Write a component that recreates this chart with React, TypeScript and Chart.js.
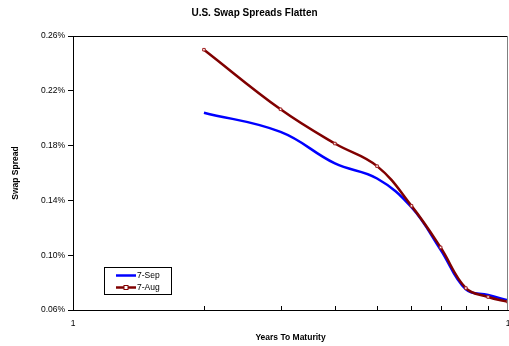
import React, { useEffect, useRef } from 'react';
import { Chart, registerables } from 'chart.js';

Chart.register(...registerables);

const FONT = "'Liberation Sans', Arial, Helvetica, sans-serif";

const chartTitle = 'U.S. Swap Spreads Flatten';
const xAxisTitle = 'Years To Maturity';
const yAxisTitle = 'Swap Spread';

const maturities = [2, 3, 4, 5, 6, 7, 8, 9, 10];
const sep7 = [0.204, 0.19, 0.167, 0.156, 0.135, 0.104, 0.075, 0.071, 0.067];
const aug7 = [0.25, 0.2065, 0.1815, 0.165, 0.136, 0.1057, 0.076, 0.0695, 0.066];
const seriesLabels = ['7-Sep', '7-Aug'];

const yTickValues = [0.06, 0.1, 0.14, 0.18, 0.22, 0.26];
const xTickValues = [1, 2, 3, 4, 5, 6, 7, 8, 9, 10];
const xTickLabels = ['1', '', '', '', '', '', '', '', '', '1'];

const framePlugin = {
  id: 'frame',
  afterDraw(chart: any) {
    const { ctx, chartArea } = chart;
    ctx.save();
    ctx.strokeStyle = '#000';
    ctx.lineWidth = 1;
    ctx.beginPath();
    ctx.moveTo(Math.round(chartArea.left) + 0.5, Math.round(chartArea.top) + 0.5);
    ctx.lineTo(Math.round(chartArea.right) - 0.5, Math.round(chartArea.top) + 0.5);
    ctx.stroke();
    ctx.strokeStyle = '#808080';
    ctx.beginPath();
    ctx.moveTo(Math.round(chartArea.right) - 0.5, Math.round(chartArea.top));
    ctx.lineTo(Math.round(chartArea.right) - 0.5, Math.round(chartArea.bottom));
    ctx.stroke();
    // inside minor ticks on x axis
    const xs = chart.scales.x;
    ctx.strokeStyle = '#000';
    xs.ticks.forEach((t: any, i: number) => {
      if (i === 0 || i === xs.ticks.length - 1) return;
      const px = Math.round(xs.getPixelForValue(t.value)) + 0.5;
      ctx.beginPath();
      ctx.moveTo(px, chartArea.bottom);
      ctx.lineTo(px, chartArea.bottom - 4);
      ctx.stroke();
    });
    ctx.restore();
  },
};

const legendPlugin = {
  id: 'boxLegend',
  afterDatasetsDraw(chart: any) {
    const { ctx, chartArea } = chart;
    const x = Math.round(chartArea.left + 31);
    const y = Math.round(chartArea.bottom - 43);
    const w = 67;
    const h = 27;
    ctx.save();
    ctx.fillStyle = '#fff';
    ctx.fillRect(x, y, w, h);
    ctx.strokeStyle = '#000';
    ctx.lineWidth = 1;
    ctx.strokeRect(x + 0.5, y + 0.5, w, h);
    const ds = chart.data.datasets;
    ds.forEach((d: any, i: number) => {
      const ly = y + 8.5 + i * 12;
      ctx.strokeStyle = d.borderColor;
      ctx.lineWidth = 2.5;
      ctx.beginPath();
      ctx.moveTo(x + 12, ly);
      ctx.lineTo(x + 32, ly);
      ctx.stroke();
      if (d.pointRadius > 0) {
        ctx.lineWidth = 1;
        ctx.fillStyle = '#fff';
        ctx.fillRect(x + 20, ly - 2, 4, 4);
        ctx.strokeRect(x + 20, ly - 2, 4, 4);
      }
      ctx.fillStyle = '#000';
      ctx.font = `8.5px ${FONT}`;
      ctx.textBaseline = 'middle';
      ctx.textAlign = 'left';
      ctx.fillText(d.label, x + 33, ly);
    });
    ctx.restore();
  },
};

export default function App() {
  const ref = useRef<HTMLCanvasElement | null>(null);

  useEffect(() => {
    if (!ref.current) return;
    const chart = new Chart(ref.current, {
      type: 'line',
      data: {
        datasets: [
          {
            label: seriesLabels[0],
            data: maturities.map((m, i) => ({ x: m, y: sep7[i] })),
            borderColor: '#0000ff',
            backgroundColor: '#0000ff',
            borderWidth: 2.5,
            pointRadius: 0,
            tension: 0.4,
            order: 1,
          },
          {
            label: seriesLabels[1],
            data: maturities.map((m, i) => ({ x: m, y: aug7[i] })),
            borderColor: '#800000',
            backgroundColor: '#ffffff',
            borderWidth: 2.5,
            pointRadius: 1.8,
            pointStyle: 'rect',
            pointBorderWidth: 1,
            pointBorderColor: '#a02020',
            pointBackgroundColor: '#ffffff',
            tension: 0.4,
            order: 0,
          },
        ],
      },
      options: {
        animation: false,
        responsive: false,
        devicePixelRatio: 1,
        layout: { autoPadding: false, padding: { left: 0, right: 0, top: 0, bottom: 0 } },
        plugins: {
          legend: { display: false },
          tooltip: { enabled: false },
          title: {
            display: true,
            text: chartTitle,
            color: '#000',
            font: { family: FONT, size: 10, weight: 'bold', lineHeight: 1.2 },
            padding: { top: 7, bottom: 17 },
          },
        },
        scales: {
          x: {
            type: 'logarithmic',
            min: 1,
            max: 10,
            afterBuildTicks: (s: any) => {
              s.ticks = xTickValues.map((v) => ({ value: v }));
            },
            afterFit: (s: any) => {
              s.height = 36;
              s.paddingLeft = 0;
              s.paddingRight = 1;
            },
            grid: { display: false },
            border: { display: true, color: '#000', width: 1 },
            ticks: {
              autoSkip: false,
              maxRotation: 0,
              padding: 1,
              color: '#000',
              font: { family: FONT, size: 8.5 },
              callback: (_v: any, i: number) => xTickLabels[i],
            },
            title: {
              display: true,
              text: xAxisTitle,
              color: '#000',
              font: { family: FONT, size: 8.5, weight: 'bold', lineHeight: 1.2 },
              padding: { top: 0, bottom: 3 },
            },
          },
          y: {
            min: 0.06,
            max: 0.26,
            afterBuildTicks: (s: any) => {
              s.ticks = yTickValues.map((v) => ({ value: v }));
            },
            afterFit: (s: any) => {
              s.width = 73;
            },
            grid: {
              drawOnChartArea: false,
              drawTicks: true,
              tickLength: 5,
              color: '#000',
            },
            border: { display: true, color: '#000', width: 1 },
            ticks: {
              padding: 3,
              color: '#000',
              font: { family: FONT, size: 8.5 },
              callback: (v: any) => `${Number(v).toFixed(2)}%`,
            },
            title: {
              display: true,
              text: yAxisTitle,
              color: '#000',
              font: { family: FONT, size: 8.5, weight: 'bold', lineHeight: 1.2 },
              padding: { top: 11, bottom: 0 },
            },
          },
        },
      } as any,
      plugins: [framePlugin, legendPlugin],
    });
    return () => chart.destroy();
  }, []);

  return (
    <div style={{ position: 'fixed', left: 0, top: 0, width: 509, height: 346, background: '#fff' }}>
      <canvas ref={ref} width={509} height={346} style={{ width: 509, height: 346 }} />
    </div>
  );
}
